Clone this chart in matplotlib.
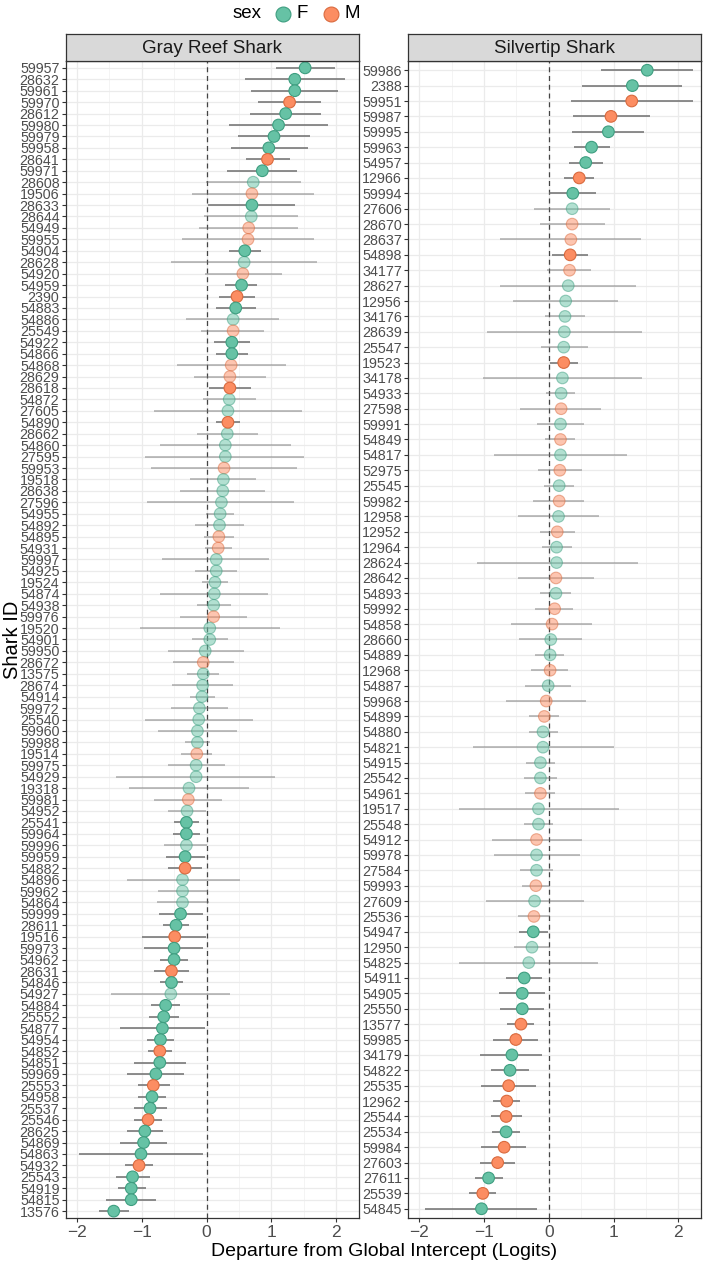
import matplotlib
matplotlib.use("Agg")
import matplotlib.pyplot as plt
import numpy as np

plt.rcParams['font.family'] = ['Liberation Sans', 'DejaVu Sans']

# ---------------- Gray Reef Shark (top to bottom) ----------------
gr_ids = ["59957", "28632", "59961", "59970", "28612", "59980", "59979", "59958", "28641", "59971",
          "28608", "19506", "28633", "28644", "54949", "59955", "54904", "28628", "54920", "54959",
          "2390", "54883", "54886", "25549", "54922", "54866", "54868", "28629", "28618", "54872",
          "27605", "54890", "28662", "54860", "27595", "59953", "19518", "28638", "27596", "54955",
          "54892", "54895", "54931", "59997", "54925", "19524", "54874", "54938", "59976", "19520",
          "54901", "59950", "28672", "13575", "28674", "54914", "59972", "25540", "59960", "59988",
          "19514", "59975", "54929", "19318", "59981", "54952", "25541", "59964", "59996", "59959",
          "54882", "54896", "59962", "54864", "59999", "28611", "19516", "59973", "54962", "28631",
          "54846", "54927", "54884", "25552", "54877", "54954", "54852", "54851", "59969", "25553",
          "54958", "25537", "25546", "28625", "54869", "54863", "54932", "25543", "54919", "54815",
          "13576"]
gr_est = [1.52, 1.36, 1.36, 1.28, 1.22, 1.11, 1.04, 0.96, 0.94, 0.86,
          0.72, 0.70, 0.70, 0.69, 0.65, 0.64, 0.59, 0.58, 0.56, 0.54,
          0.47, 0.45, 0.41, 0.41, 0.39, 0.39, 0.38, 0.36, 0.36, 0.35,
          0.33, 0.33, 0.32, 0.29, 0.29, 0.27, 0.26, 0.25, 0.23, 0.21,
          0.20, 0.19, 0.18, 0.15, 0.15, 0.13, 0.12, 0.11, 0.11, 0.05,
          0.05, -0.02, -0.05, -0.05, -0.06, -0.07, -0.11, -0.12, -0.14, -0.14,
          -0.15, -0.16, -0.16, -0.27, -0.28, -0.30, -0.31, -0.31, -0.31, -0.33,
          -0.33, -0.37, -0.37, -0.37, -0.40, -0.47, -0.49, -0.50, -0.50, -0.54,
          -0.54, -0.55, -0.63, -0.66, -0.68, -0.71, -0.72, -0.72, -0.78, -0.82,
          -0.84, -0.87, -0.90, -0.95, -0.97, -1.01, -1.04, -1.14, -1.16, -1.16,
          -1.43]
gr_lo = [1.07, 0.59, 0.69, 0.79, 0.67, 0.34, 0.49, 0.38, 0.61, 0.32,
         -0.01, -0.23, 0.03, -0.04, -0.11, -0.38, 0.35, -0.54, -0.03, 0.28,
         0.19, 0.14, -0.31, -0.08, 0.12, 0.15, -0.45, -0.20, 0.04, -0.06,
         -0.81, 0.14, -0.15, -0.72, -0.95, -0.85, -0.26, -0.41, -0.91, -0.01,
         -0.17, -0.04, -0.02, -0.68, -0.17, -0.07, -0.71, -0.15, -0.41, -1.02,
         -0.23, -0.59, -0.51, -0.30, -0.53, -0.26, -0.55, -0.95, -0.74, -0.33,
         -0.39, -0.59, -1.39, -1.20, -0.81, -0.59, -0.50, -0.52, -0.65, -0.63,
         -0.59, -1.23, -0.75, -0.77, -0.73, -0.67, -0.99, -0.97, -0.72, -0.81,
         -0.72, -1.47, -0.86, -0.89, -1.34, -0.92, -0.90, -1.12, -1.23, -1.06,
         -1.05, -1.12, -1.12, -1.23, -1.34, -1.97, -1.26, -1.40, -1.37, -1.55,
         -1.66]
gr_hi = [1.98, 2.13, 2.02, 1.77, 1.77, 1.87, 1.60, 1.56, 1.28, 1.40,
         1.45, 1.65, 1.36, 1.41, 1.41, 1.66, 0.84, 1.71, 1.17, 0.78,
         0.74, 0.76, 1.12, 0.89, 0.67, 0.64, 1.22, 0.92, 0.68, 0.76,
         1.47, 0.52, 0.80, 1.30, 1.51, 1.39, 0.76, 0.90, 1.35, 0.43,
         0.58, 0.43, 0.39, 0.97, 0.47, 0.33, 0.95, 0.37, 0.62, 1.14,
         0.33, 0.58, 0.42, 0.20, 0.41, 0.13, 0.33, 0.71, 0.47, 0.05,
         0.09, 0.28, 1.06, 0.65, 0.24, -0.01, -0.12, -0.10, 0.01, -0.02,
         -0.07, 0.51, 0.02, 0.04, -0.06, -0.27, -0.01, -0.05, -0.29, -0.27,
         -0.36, 0.36, -0.41, -0.42, -0.03, -0.50, -0.53, -0.32, -0.34, -0.57,
         -0.62, -0.61, -0.68, -0.67, -0.61, -0.05, -0.82, -0.87, -0.94, -0.78,
         -1.19]
gr_sex = list("FFFMFFFFMF" "FMFFMMFFMF" "MFFMFFMMMF" "FMFFFMFFFF" "FMMFFFFFMF"
              "FFMFFFFFFF" "MFFFMFFFFF" "MFFFFFMFFM" "FFFFFFMFFM" "FFMFFFMFFF" "F")
gr_sig = [c == "1" for c in "1111111111" "0010001001" "1100110010" "0100000000" "0000000000"
          "0000000000" "0000001101" "1000111111" "1011111111" "1111111111" "1"]

# ---------------- Silvertip Shark (top to bottom) ----------------
st_ids = ["59986", "2388", "59951", "59987", "59995", "59963", "54957", "12966", "59994", "27606",
          "28670", "28637", "54898", "34177", "28627", "12956", "34176", "28639", "25547", "19523",
          "34178", "54933", "27598", "59991", "54849", "54817", "52975", "25545", "59982", "12958",
          "12952", "12964", "28624", "28642", "54893", "59992", "54858", "28660", "54889", "12968",
          "54887", "59968", "54899", "54880", "54821", "54915", "25542", "54961", "19517", "25548",
          "54912", "59978", "27584", "59993", "27609", "25536", "54947", "12950", "54825", "54911",
          "54905", "25550", "13577", "59985", "34179", "54822", "25535", "12962", "25544", "25534",
          "59984", "27603", "27611", "25539", "54845"]
st_est = [1.52, 1.29, 1.28, 0.96, 0.92, 0.66, 0.57, 0.47, 0.37, 0.36,
          0.36, 0.34, 0.33, 0.32, 0.30, 0.26, 0.25, 0.24, 0.23, 0.23,
          0.21, 0.19, 0.19, 0.18, 0.18, 0.18, 0.17, 0.16, 0.16, 0.15,
          0.13, 0.12, 0.12, 0.11, 0.11, 0.09, 0.05, 0.03, 0.02, 0.02,
          -0.01, -0.04, -0.07, -0.09, -0.09, -0.13, -0.13, -0.13, -0.16, -0.16,
          -0.19, -0.19, -0.19, -0.20, -0.22, -0.23, -0.24, -0.26, -0.31, -0.38,
          -0.41, -0.41, -0.43, -0.51, -0.57, -0.60, -0.62, -0.65, -0.66, -0.66,
          -0.69, -0.79, -0.93, -1.02, -1.04]
st_lo = [0.80, 0.51, 0.35, 0.37, 0.36, 0.39, 0.31, 0.23, 0.01, -0.23,
         -0.14, -0.75, 0.05, -0.03, -0.75, -0.55, -0.06, -0.96, -0.12, 0.02,
         -1.02, -0.05, -0.45, -0.18, -0.06, -0.85, -0.17, -0.07, -0.25, -0.48,
         -0.14, -0.11, -1.11, -0.48, -0.13, -0.21, -0.58, -0.46, -0.21, -0.27,
         -0.37, -0.66, -0.31, -0.31, -1.17, -0.36, -0.39, -0.37, -1.39, -0.38,
         -0.88, -0.85, -0.45, -0.42, -0.97, -0.48, -0.46, -0.54, -1.38, -0.66,
         -0.77, -0.76, -0.65, -0.86, -1.07, -0.90, -1.04, -0.86, -0.90, -0.88,
         -1.04, -1.06, -1.14, -1.24, -1.91]
st_hi = [2.23, 2.06, 2.23, 1.57, 1.47, 0.95, 0.83, 0.70, 0.73, 0.95,
         0.86, 1.43, 0.61, 0.65, 1.35, 1.07, 0.56, 1.44, 0.60, 0.45,
         1.44, 0.41, 0.81, 0.54, 0.41, 1.20, 0.52, 0.39, 0.55, 0.77,
         0.40, 0.36, 1.37, 0.70, 0.35, 0.38, 0.67, 0.52, 0.24, 0.30,
         0.35, 0.58, 0.16, 0.14, 1.00, 0.09, 0.12, 0.09, 1.08, 0.06,
         0.51, 0.48, 0.07, 0.02, 0.54, 0.02, -0.02, 0.02, 0.76, -0.11,
         -0.06, -0.08, -0.23, -0.16, -0.10, -0.30, -0.20, -0.45, -0.41, -0.44,
         -0.35, -0.53, -0.71, -0.81, -0.18]
st_sex = list("FFMMFFFMFFMM" "MMFFFFFMFFMFM" "FMFMFMFFMFMM" "FFMFMMFFFFMF"
              "FMFFMFMFFFFFF" "MMFFMMMFMMFMF")
st_sig = [c == "1" for c in "111111111000" "1000000100000" "000000000000" "000000000000"
          "0000000100111" "1111111111111"]

fill_col = {"F": "#66C2A5", "M": "#FC8D62"}
edge_col = {"F": "#3E9E80", "M": "#D96A3E"}
W, H = 705, 1264

fig = plt.figure(figsize=(W / 100, H / 100), dpi=100)


def draw_panel(x0, x1, title, ids, est, lo, hi, sex, sig):
    top, bottom = 61, 1218
    ax = fig.add_axes([x0 / W, 1 - bottom / H, (x1 - x0) / W, (bottom - top) / H])
    n = len(ids)
    y = np.arange(n, 0, -1)
    est, lo, hi = np.array(est), np.array(lo), np.array(hi)
    sig = np.array(sig)
    cols = np.array([fill_col[s] for s in sex])
    ecols = np.array([edge_col[s] for s in sex])

    ax.axvline(0, color="#444444", linestyle=(0, (4, 3)), lw=0.9, zorder=1)
    # intervals
    ax.hlines(y[sig], lo[sig], hi[sig], color="#6E6E6E", lw=1.1, zorder=2)
    ax.hlines(y[~sig], lo[~sig], hi[~sig], color="#6E6E6E", lw=1.1, alpha=0.55, zorder=2)
    # points
    ax.scatter(est[~sig], y[~sig], s=70, c=list(cols[~sig]), edgecolors=list(ecols[~sig]),
               linewidths=0.8, alpha=0.5, zorder=3)
    ax.scatter(est[sig], y[sig], s=70, c=list(cols[sig]), edgecolors=list(ecols[sig]),
               linewidths=0.8, zorder=4)

    ax.set_xlim(-2.17, 2.35)
    ax.set_ylim(0.4, n + 0.6)
    ax.set_xticks([-2, -1, 0, 1, 2])
    ax.set_xticks([-1.5, -0.5, 0.5, 1.5], minor=True)
    ax.set_yticks(y)
    ax.set_yticklabels(ids)
    ax.tick_params(axis="y", labelsize=10.3, labelcolor="#4D4D4D", length=3, width=0.8,
                   color="#333333", pad=1.5)
    ax.tick_params(axis="x", labelsize=12.5, labelcolor="#4D4D4D", length=3, width=0.8,
                   color="#333333", pad=2)
    ax.tick_params(axis="x", which="minor", length=0)
    ax.grid(True, which="major", color="#EBEBEB", lw=0.9, zorder=0)
    ax.grid(True, which="minor", axis="x", color="#F2F2F2", lw=0.6, zorder=0)
    ax.set_axisbelow(True)
    for sp in ax.spines.values():
        sp.set_color("#333333")
        sp.set_linewidth(0.9)

    # facet strip
    sax = fig.add_axes([x0 / W, 1 - 61 / H, (x1 - x0) / W, 27 / H])
    sax.set_facecolor("#D9D9D9")
    sax.set_xticks([])
    sax.set_yticks([])
    for sp in sax.spines.values():
        sp.set_color("#333333")
        sp.set_linewidth(0.9)
    sax.text(0.5, 0.48, title, ha="center", va="center", fontsize=13.5, color="#1A1A1A",
             transform=sax.transAxes)
    return ax


draw_panel(65.7, 359, "Gray Reef Shark", gr_ids, gr_est, gr_lo, gr_hi, gr_sex, gr_sig)
draw_panel(408.3, 701, "Silvertip Shark", st_ids, st_est, st_lo, st_hi, st_sex, st_sig)

# axis titles
fig.text(13 / W, 1 - 640 / H, "Shark ID", rotation=90, ha="center", va="center", fontsize=14.5)
fig.text(384 / W, 1 - 1251 / H, "Departure from Global Intercept (Logits)", ha="center",
         va="center", fontsize=14)

# legend at the top
lax = fig.add_axes([0, 0, 1, 1], facecolor="none")
lax.set_xlim(0, W)
lax.set_ylim(H, 0)
lax.axis("off")
lax.text(247, 14, "sex", ha="center", va="center", fontsize=13.5)
for s, xk in zip(["F", "M"], [283, 331]):
    lax.scatter([xk], [14], s=115, c=fill_col[s], edgecolors=edge_col[s], linewidths=0.8)
    lax.text(xk + 14, 14, s, ha="left", va="center", fontsize=13.5)

fig.savefig("out.png", dpi=100)
